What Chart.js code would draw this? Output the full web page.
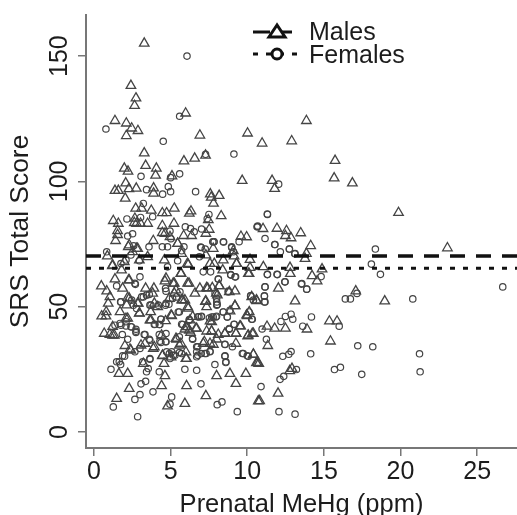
<!DOCTYPE html>
<html>
<head>
<meta charset="utf-8">
<title>SRS Total Score</title>
<script src="https://cdn.jsdelivr.net/npm/chart.js@4"></script>
<style>
  html, body { margin: 0; padding: 0; background: #fff; overflow: hidden; }
  canvas { display: block; filter: blur(0.4px); }
</style>
</head>
<body>
<canvas id="chart" width="517" height="515"></canvas>
<script>
const xTicks = [0, 5, 10, 15, 20, 25];
const yTicks = [0, 50, 100, 150];
const seriesNames = ['Males', 'Females'];
const maleMean = 70.2;
const femaleMean = 65.3;

const maleX = [3.28,2.41,2.74,2.65,5.98,1.37,2.11,2.46,2.87,2.11,6.91,10.02,3.28,7.28,6.57,5.87,3.37,1.98,2.22,4.07,
  4.02,5.09,9.67,2.07,3.89,2.28,2.76,1.37,1.59,3.89,7.59,8.17,2.04,7.65,7.8,2.72,3.11,3.74,4.46,4.74,
  5.24,6.33,6.22,8.3,1.26,1.59,2.67,2.63,2.78,3.04,3.5,5.22,4.46,7.46,1.54,4.46,4.63,7.52,7.3,1.54,
  4.96,5.85,6.37,9.59,9.96,1.41,3.87,5.46,2.24,7.78,2.78,5.72,9.09,0.87,
  13.86,10.97,12.9,15.73,15.67,16.86,11.62,11.79,19.87,11.94,11.03,12.56,12.49,12.86,13.49,14.14,23.06,13.86,
  0.48,0.83,1.37,1.87,2.3,1.8,1.2,3.37,3.91,3.83,4.63,5.17,5.35,6.2,5.67,6.91,7.35,7.72,8.17,6.59,7.98,9.2,
  7.3,9.2,7.35,10.6,10.07,9.3,7.57,6.15,1.04,0.93,2.89,2.3,2.13,0.8,0.5,0.78,1.7,2.96,2.2,3.65,3.7,5.07,4.67,
  6.15,5.72,5.93,9.96,10.13,7.57,9.52,6.26,5.93,6.7,6.3,7.35,7.67,8.11,8.54,9.26,10.07,10.33,0.67,1.04,1.33,
  5.39,4.41,2.02,2.35,3.33,5.67,3.87,7.13,7.57,9.26,4.46,6.04,10.4,10.6,4.57,3.22,1.63,2.2,8.87,9.91,8,4.63,
  2.3,6.04,4.41,9.26,1.48,7.3,5.93,4.8,10.72,
  18.97,17.08,13.12,12.03,14.56,14.23,14.88,12.81,15.36,15.86,13.9,12.49,11.79,11.29,15.43,11.34,12.77,12.92,10.75,12.01,10.81,
  2.3,2.85,2.52,1.98,1.22,3.5,2.96,4.59,5.46,6.1,7.3,7.85,9.14,9.31,10.18,13.77,8.44,10.18,11.05,12.79,
  2.26,2.2,2.85,2.96,2.09,1.22,1.22,2.41,3.07,3.94,4.48,5.03,5.35,5.57,6,6,6.22,6.65,7.42,7.27,7.2,
  4.7,5.24,5.68,6.11,5.24,5.79,4.92,6.11,6.44,5.03,6,3.94,4.16,3.72,
  8.4,10.12,8.18,8.83,10.62,10.29,8.05,8.88,9.2,7.68,9.57,9.27,8.55,8.01,7.68,10.03,10.4,7.79,10.4,10.68,10];
const maleY = [155.1,138.2,133.2,130.2,127.2,124.2,123.2,121.2,120.2,118.2,118.4,119.2,111.3,110.4,109.2,108.1,106.3,105.2,104,105.2,
  102.4,102.1,100.3,99.3,97.3,97,97.2,96.3,96.3,95.2,94.9,94.3,93.2,93.6,91.2,89.2,89.2,88.4,87.4,87.4,
  89.2,88.1,87.2,86.2,84.3,83.2,85.2,83.5,83.2,83.2,83.2,83.2,82.3,84.6,80.3,79.5,79.2,80.8,79.2,78.7,
  77.9,78.3,78.3,78,77.8,76.3,76.3,75.2,73.9,73.2,73.2,71.2,72.3,70.2,
  124.2,115.2,116.1,108.3,101.3,99.3,100.3,97.1,87.5,81.2,81.1,80.3,78.3,77.4,79.4,74.3,73.4,71.2,
  58.2,56.2,61,57.3,60.6,64.6,66.3,57.3,57.3,55.3,60.2,59.3,56.6,59.3,63.2,57.3,57.5,57.5,58.3,55.3,55.3,56.2,
  52.2,50.3,49.9,52.6,63.2,67.2,67.2,66.8,53.9,51.3,51.3,53.3,50.6,47.9,46.2,46.2,47.9,47.3,45.3,44.6,47.9,46.3,44.3,
  49.3,52.6,52.6,46.6,47.9,44.2,42.2,44.6,41,41.3,39.7,40.2,40.2,38.9,39.3,39.3,38.6,39.3,39.3,38.9,38.6,
  37,38.6,34.4,33,35.3,35.3,33.3,35.3,35.3,35.3,30.4,29.3,31,27.6,27.3,27.3,23.3,23.3,23.3,23.3,22.4,22.4,
  17.3,18.4,18.4,19.3,13.3,14.4,11.3,10.3,12.3,
  52.2,56.2,52.2,57.3,60.2,62.3,65,63.2,44.2,44.2,41,41.3,41.3,42.1,36.2,34.4,24.4,25.3,27.3,15.4,12.4,
  74.6,73.2,71.9,67.9,66.6,69.9,68.6,68.6,75.2,67.2,70.6,67.2,70.2,67.2,68.8,69.2,68.6,65.6,65.9,65.6,
  60.6,53.6,51.3,47.4,45.3,42,38.6,32.6,34.6,33.9,30.6,29.9,37.3,34.6,31.9,29.3,40.6,41.3,57.3,52,36,
  61.3,59.3,63.3,59.3,55.3,52.6,53.3,49.9,46,46.6,41.9,51.3,49.9,44.6,
  64.6,63.2,58.3,55.9,52.3,53.9,54.6,48.2,50.3,43.9,42.2,39.3,39.3,37,40.2,38.3,39.3,34.9,30.9,27.7,46.3];

const femaleX = [0.78,6.07,5.59,4.52,7.28,9.13,3.07,5.59,5,4.85,5,4.48,6.63,3.43,3.22,3.04,3.83,2.15,7.5,7.39,10.67,5.96,6.3,7.02,6.54,
  4.96,2.52,2.2,5.02,7.83,8.46,4.46,4.8,3.59,2.59,5.87,6.96,7.26,8.98,0.83,5.72,
  12.05,11.32,10.64,11.16,11.79,12.75,12.16,13.1,18.36,
  2.85,1.26,2.67,3,5.07,4.96,3.85,8.04,8.35,9.35,3.07,3.37,6.98,4.26,1.11,5.93,6.7,7.89,8.61,8.54,1.48,1.74,3.43,3.54,3.65,2,2.67,3,
  4.74,5.07,5.28,5.72,4.96,6.7,6.7,7.24,7.57,9.74,10.07,1.85,2.2,3.33,3.65,4.3,4.67,5.57,6.43,6.7,8.54,
  1.7,2.09,2.46,2.74,2.74,1.37,3.98,4.3,4.37,5.72,6.04,6.22,8.83,9.15,6.85,7.02,7.78,8,8.7,8.43,8.87,10.33,5.5,
  3.65,4.2,4.67,4.89,5.13,5.39,1.74,2.46,2.57,2.78,3.11,3.43,1.48,2.67,4.67,5.61,8,8.04,8.76,10.22,3,8.11,8.93,9.24,7.13,7.61,
  26.67,18.1,18.69,20.8,16.4,16.73,17.21,18.19,21.24,21.28,17.47,15.69,16.08,14.14,13.21,12.32,12.71,12.86,12.14,12.38,10.9,12.07,13.12,
  14.19,13.62,16,12.86,12.97,12.49,12.2,10.97,11.25,11.16,11.12,11.16,11.94,11.32,12.45,13.53,13.88,14.82,17.16,
  1.76,2.09,2.41,2.96,4.8,5.46,7,6.88,7.75,8.44,9.47,8.99,9.1,7.83,11.31,10.68,11.81,12.75,13.12,
  2.7,1.76,3.22,3.61,4.7,3.72,3.94,4.37,4.26,3.61,3.28,2.09,2.41,2.74,1.76,1.87,1.65,3.65,3.18,
  4.26,4.7,4.7,4.37,6.44,6.77,7,7.32,6.77,4.92,5.18,5.57,5.79,6.22,6.77,7,7.53,5.57,4.7,
  8.12,8.92,9.2,11.31,11.97,12.47,13.56,13.88,11.16,11.12,11.12,10.23,10.4,8.77,7.9,8.01,8.01,8.44,8.7,7.68,7.96,
  10.29,10.12,9.14,8.83,8.55,9.03,9.68,10,8.55,8.6,7.57];
const femaleY = [120.9,150,126,116,110.8,110.9,102,103,101.5,97.9,95.9,94.9,95.9,96.7,91.2,85.6,85.9,85,86.8,85.1,81.9,81.9,81.2,81,79.9,
  80.2,79.1,78.2,77.1,75.9,75.8,73.9,73.9,73.9,74.3,73.9,73.8,73,73.9,71.9,72.3,
  98.9,86.8,81.9,77.2,74.8,73,71.9,71.1,73,
  6.1,10,13,14.9,14,11.1,16,10.9,12,8.1,19.2,20.2,19.2,24,25,25,24.6,26.9,28,30.2,28,26.9,24,25.3,29.3,30.2,32,33.3,
  32,32,30.6,31.3,29.3,32,30,31.3,32,31.3,30.2,38.9,37,38.9,36.6,36.2,36,38,37.3,34,35,
  43.3,42.3,41.9,41,39.7,42.6,43,42.9,45,43,41.9,44.9,41,43,45.9,46.2,45.9,46.2,45.9,47.9,48.6,45,47.9,
  50.6,50.6,50.6,51,53.3,53.9,51.9,52.6,50.6,49.3,53.9,54.6,58.3,59.3,57.3,55.9,53.3,50.9,56.2,54.3,61.9,61,62.6,61.9,63.9,63.9,
  57.9,67,62.9,53.1,53.1,53.1,34.4,34,31.2,24,23,24.9,25.8,31.2,24.9,30.2,31,32.1,21,22.2,18.1,8.1,7.1,
  45.9,42.2,42.2,47,45,46.1,44.1,41.1,37,57.9,54.2,51.9,62.9,62.9,59.9,59,57,62,55.3,
  67.2,68.6,70.6,68.3,65.9,68.3,73.6,69.9,75.9,75.9,75.9,73.6,71.9,75.9,87,82.2,74.8,73,71.2,
  58.9,51.9,53.9,54.9,51.3,50.6,42.9,45,42.9,37,38.9,44,42,40.2,42.6,30.4,28,29,28,
  38.9,39.3,36,35.7,37,34,31.3,31.3,30.6,31.3,30.6,31.7,42.9,44.6,46,46,45.5,47.9,56.2,
  61,62.8,61.9,62.8,62.8,59.9,59.2,57,57.9,54.3,51.9,54.3,52.6,55.9,55.3,51.9,50.6,47.9,45.9,45.9,45.9,
  45,47.9,42.9,41.3,34.9,34,31.3,30.4,30.4,27.7,32.2];

const X_MIN = -0.52, X_MAX = 27.6, Y_MIN = -6.4, Y_MAX = 166.4;
const FONT = '"Liberation Sans", Arial, sans-serif';
const INK = '#1c1c1c';
const MARK = '#444';
const AXIS = '#777';

const toPoints = (xs, ys) => xs.map((x, i) => ({ x, y: ys[i] }));

// legend sits inside the plot with the line running through its marker
const legendPlugin = {
  id: 'sampleLegend',
  afterDatasetsDraw(chart) {
    const { ctx } = chart;
    ctx.save();
    ctx.strokeStyle = '#111';
    ctx.font = '25px ' + FONT;
    ctx.textBaseline = 'middle';

    ctx.lineWidth = 3;
    ctx.setLineDash([17, 5]);
    ctx.beginPath(); ctx.moveTo(253, 32); ctx.lineTo(294, 32); ctx.stroke();
    ctx.setLineDash([]);
    ctx.fillStyle = '#fff';
    ctx.beginPath(); ctx.moveTo(277, 25); ctx.lineTo(269, 37); ctx.lineTo(285, 37); ctx.closePath();
    ctx.fill(); ctx.stroke();

    ctx.setLineDash([5, 8]);
    ctx.beginPath(); ctx.moveTo(253, 54); ctx.lineTo(298, 54); ctx.stroke();
    ctx.setLineDash([]);
    ctx.beginPath(); ctx.arc(277, 54, 5, 0, Math.PI * 2);
    ctx.fill(); ctx.stroke();

    ctx.fillStyle = INK;
    ctx.fillText(seriesNames[0], 309, 33);
    ctx.fillText(seriesNames[1], 309, 56);
    ctx.restore();
  }
};

new Chart(document.getElementById('chart'), {
  type: 'scatter',
  data: {
    datasets: [
      {
        label: 'Males mean', showLine: true, pointRadius: 0,
        data: [{ x: X_MIN, y: maleMean }, { x: X_MAX, y: maleMean }],
        borderColor: '#111', borderWidth: 3.5, borderDash: [15, 11]
      },
      {
        label: 'Females mean', showLine: true, pointRadius: 0,
        data: [{ x: X_MIN, y: femaleMean }, { x: X_MAX, y: femaleMean }],
        borderColor: '#111', borderWidth: 3, borderDash: [5, 8]
      },
      {
        label: seriesNames[0], data: toPoints(maleX, maleY),
        pointStyle: 'triangle', pointRadius: 5.5,
        pointBorderColor: MARK, pointBorderWidth: 1.3, pointBackgroundColor: 'transparent'
      },
      {
        label: seriesNames[1], data: toPoints(femaleX, femaleY),
        pointStyle: 'circle', pointRadius: 3.2,
        pointBorderColor: MARK, pointBorderWidth: 1.2, pointBackgroundColor: 'transparent'
      }
    ]
  },
  options: {
    responsive: false,
    animation: false,
    layout: { autoPadding: false, padding: { top: 15, left: 0, right: 0, bottom: 0 } },
    plugins: { legend: { display: false }, tooltip: { enabled: false } },
    scales: {
      x: {
        type: 'linear', min: X_MIN, max: X_MAX,
        afterBuildTicks: s => { s.ticks = xTicks.map(value => ({ value })); },
        afterFit: s => { s.height = 67; },
        border: { color: AXIS, width: 2 },
        grid: { drawOnChartArea: false, color: AXIS, lineWidth: 1.5, tickLength: 8 },
        ticks: { color: INK, font: { family: FONT, size: 25 }, padding: 1, maxRotation: 0, autoSkip: false },
        title: { display: true, text: 'Prenatal MeHg (ppm)', color: INK, font: { family: FONT, size: 25.5 }, padding: { top: 0, bottom: -5 } }
      },
      y: {
        type: 'linear', min: Y_MIN, max: Y_MAX,
        afterBuildTicks: s => { s.ticks = yTicks.map(value => ({ value })); },
        afterFit: s => { s.width = 86; },
        border: { color: AXIS, width: 2 },
        grid: { drawOnChartArea: false, color: AXIS, lineWidth: 1.5, tickLength: 8 },
        ticks: { color: INK, font: { family: FONT, size: 25 }, padding: -3, crossAlign: 'center', minRotation: 90, maxRotation: 90, autoSkip: false },
        title: { display: true, text: 'SRS Total Score', color: INK, font: { family: FONT, size: 26.4 }, padding: { top: 5, bottom: 0 } }
      }
    }
  },
  plugins: [legendPlugin]
});
</script>
</body>
</html>
